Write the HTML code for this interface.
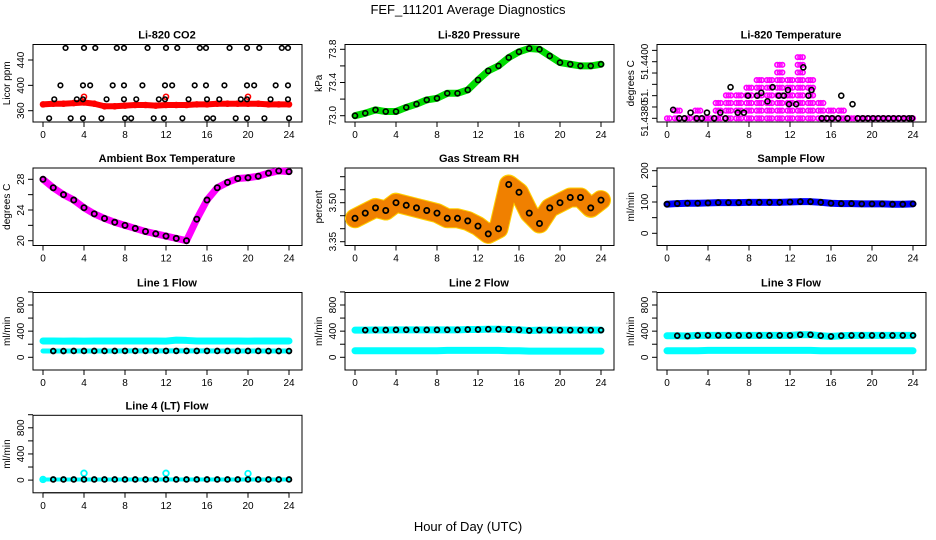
<!DOCTYPE html>
<html><head><meta charset="utf-8"><style>
body{margin:0;background:#fff}
svg{display:block;font-family:"Liberation Sans",sans-serif}
</style></head><body>
<svg id="c" width="936" height="540" viewBox="0 0 936 540">
<text x="468" y="14" text-anchor="middle" font-size="13">FEF_111201  Average Diagnostics</text>
<text x="468" y="531" text-anchor="middle" font-size="13">Hour of Day (UTC)</text>
</svg>
<script>
const hours=[0,1,2,3,4,5,6,7,8,9,10,11,12,13,14,15,16,17,18,19,20,21,22,23,24];
const xTicks=[0,4,8,12,16,20,24];
const co2Red=[370,371,371,372,373,371,367,367,368,369,369,368,369,369,369,370,370,371,371,371,371,371,370,370,370];
const co2OutHours=[2.2,4.0,5.1,7.2,7.9,10.2,12.0,13.1,15.3,15.9,18.2,19.9,21.1,23.3,23.9,1.7,3.9,4.6,6.8,7.9,9.7,11.9,12.6,14.8,15.9,17.7,19.9,20.6,22.7,23.9,1.1,3.3,3.9,6.2,7.9,9.1,11.3,11.9,14.2,16.0,17.2,19.3,19.9,22.2,23.9,0.6,2.7,3.9,5.7,8.0,8.6,10.8,11.8,13.6,16.0,16.6,18.8,19.9,21.6,24.0];
const co2OutVals=[459,459,459,459,459,459,459,459,459,459,459,459,459,459,459,400,400,400,400,400,400,400,400,400,400,400,400,400,400,400,378,378,378,378,378,378,378,378,378,378,378,378,378,378,378,348,348,348,348,348,348,348,348,348,348,348,348,348,348,348];
const presVals=[73.0,73.03,73.07,73.05,73.05,73.1,73.14,73.19,73.21,73.27,73.27,73.31,73.43,73.54,73.6,73.7,73.77,73.81,73.8,73.72,73.64,73.62,73.6,73.6,73.62];
const tempMax=[51.43805,51.4383,51.4382,51.4385,51.4382,51.4387,51.4389,51.4389,51.4391,51.4394,51.4394,51.4400,51.4396,51.4404,51.4396,51.4388,51.4383,51.4383,51.4382,51.4380,51.4380,51.4380,51.4380,51.4380,51.4380];
const tempBlackHours=[0.6,1.2,2.3,3.9,5.2,6.2,6.9,7.5,7.9,8.8,9.2,9.8,10.3,10.9,11.4,11.8,11.9,12.6,13.3,13.8,14.1,17.0,18.1,1.7,2.9,3.4,4.6,5.7,15.1,15.6,16.1,16.7,17.6,18.6,19.1,19.6,20.1,20.6,21.1,21.6,22.1,22.6,23.1,23.6,23.9];
const tempBlackVals=[51.4383,51.4380,51.4382,51.4382,51.4382,51.4391,51.4382,51.4382,51.4388,51.4388,51.4389,51.4386,51.4391,51.4388,51.4388,51.4390,51.4385,51.4385,51.4398,51.4388,51.4390,51.4388,51.4385,51.4380,51.4380,51.4380,51.4380,51.4380,51.4380,51.4380,51.4380,51.4380,51.4380,51.4380,51.4380,51.4380,51.4380,51.4380,51.4380,51.4380,51.4380,51.4380,51.4380,51.4380,51.4380];
const ambVals=[28,26.9,26.0,25.3,24.3,23.5,22.9,22.4,22.0,21.6,21.2,20.9,20.6,20.3,20.0,22.8,25.3,26.9,27.6,28.1,28.2,28.4,28.8,29.1,29.0];
const rhVals=[3.44,3.46,3.48,3.47,3.50,3.49,3.48,3.47,3.46,3.44,3.44,3.43,3.41,3.38,3.40,3.57,3.54,3.46,3.42,3.48,3.50,3.52,3.52,3.48,3.51];
const sampleVals=[93,95,96,96,97,98,98,98,99,99,99,99,100,101,101,99,96,95,95,94,94,94,93,93,94];
const line1Cyan=[250,250,248,250,248,250,250,250,250,250,250,250,248,262,258,250,250,250,250,250,248,250,250,250,250];
const line1Black=[96,96,96,97,97,97,97,97,98,98,98,98,98,98,98,98,98,97,97,97,97,97,96,96,96];
const line2Black=[415,415,418,418,420,420,420,420,420,420,420,425,425,430,430,425,420,410,415,415,415,415,415,415,415];
const line2Cyan=[100,100,100,100,100,100,100,100,100,105,105,105,105,105,105,100,100,95,95,95,95,95,95,95,95];
const line3Black=[330,330,325,335,335,335,335,335,335,335,335,335,335,345,345,330,320,330,335,335,335,335,335,335,335];
const line3Cyan=[100,100,100,100,105,105,105,105,105,105,105,105,105,105,105,100,100,100,100,100,100,100,100,100,100];
const line4Black=[10,10,10,10,10,10,10,10,10,10,10,10,10,10,10,10,10,10,10,10,10,10,10,10,10];
const line4CyanHours=[0,4,12,20];
const line4CyanVals=[10,105,105,100];
const co2Ticks=[360,400,440],co2Labels=["360","400","440"];
const presTicks=[73.0,73.2,73.4,73.6,73.8],presLabels=["73.0","","73.4","","73.8"];
const tempTicks=[51.4380,51.4384,51.4388,51.4392,51.4396,51.4400,51.4404],tempLabels=["51.4380","","51.","","","51.4400",""];
const ambTicks=[20,22,24,26,28],ambLabels=["20","","24","","28"];
const rhTicks=[3.35,3.40,3.45,3.50,3.55,3.60],rhLabels=["3.35","","","3.50","",""];
const sfTicks=[0,50,100,150,200],sfLabels=["0","","100","","200"];
const flTicks=[0,200,400,600,800,1000],flLabels=["0","","400","","800",""];

const NS="http://www.w3.org/2000/svg";
const svg=document.getElementById('c');
function mk(t,a,p){const e=document.createElementNS(NS,t);for(const k in a)e.setAttribute(k,a[k]);(p||svg).appendChild(e);return e;}
const rowTop=[44.5,168,292.5,415.3];
function panel(col,row,title,ylab,v0,p0,v1,p1,ticks,labels,name){
  const off=col*312,top=rowTop[row],bot=top+77.5;
  const g=mk('g',{});
  
  
  const xs=h=>off+43+h*10.25;
  const ys=v=>p0+(v-v0)*(p1-p0)/(v1-v0);
  const b=mk('rect',{x:off+33,y:top,width:269,height:bot-top,fill:'none',stroke:'#000','stroke-width':1},g);
  
  const t=mk('text',{x:off+167,y:top-6,'text-anchor':'middle','font-size':11,'font-weight':'bold'},g);t.textContent=title;
  
  const yl=mk('text',{x:0,y:0,'text-anchor':'middle','font-size':10,transform:`translate(${off+10},${(top+bot)/2}) rotate(-90)`},g);yl.textContent=ylab;
  
  const ax=mk('g',{},g);
  
  mk('line',{x1:xs(0),x2:xs(24),y1:bot,y2:bot,stroke:'#000'},ax);
  xTicks.forEach(h=>{mk('line',{x1:xs(h),x2:xs(h),y1:bot,y2:bot+5,stroke:'#000'},ax);
    const l=mk('text',{x:xs(h),y:bot+16,'text-anchor':'middle','font-size':10},ax);l.textContent=h;});
  const ay=mk('g',{},g);
  
  ticks.forEach((v,i)=>{const y=ys(v);mk('line',{x1:off+33,x2:off+28,y1:y,y2:y,stroke:'#000'},ay);
    if(labels[i]){const l=mk('text',{x:0,y:0,'text-anchor':'middle','font-size':10,transform:`translate(${off+24},${y}) rotate(-90)`},ay);l.textContent=labels[i];}});
  return {g,xs,ys};
}
function band(P,hs,vs,color,w,name){
  const pts=hs.map((h,i)=>P.xs(h)+','+P.ys(vs[i])).join(' ');
  const e=mk('polyline',{points:pts,fill:'none',stroke:color,'stroke-width':w,'stroke-linejoin':'round','stroke-linecap':'round'},P.g);
  
  return e;
}
function pts(P,hs,vs,color,r,name,sw){
  const g=mk('g',{},P.g);
  
  hs.forEach((h,i)=>{mk('circle',{cx:P.xs(h),cy:P.ys(vs[i]),r:r,fill:'none',stroke:color,'stroke-width':sw||1.6},g);});
}
// CO2
let P=panel(0,0,'Li-820 CO2','Licor ppm',360,110.7,440,60,co2Ticks,co2Labels,'co2');
band(P,hours,co2Red,'#f00',6,'co2-red-band');
pts(P,hours,co2Red,'#f00',2.5,'co2-red-points');
pts(P,[4,12,20],[382,382,382],'#f00',2.5,'co2-red-outliers');
pts(P,co2OutHours,co2OutVals,'#000',2.3,'co2-black-points');
// Pressure
P=panel(1,0,'Li-820 Pressure','kPa',73.0,115.7,73.8,49.3,presTicks,presLabels,'pressure');
band(P,hours,presVals,'#0d0',7,'pressure-green-band');
pts(P,hours,presVals,'#000',2.5,'pressure-black-points');
// Temperature
P=panel(2,0,'Li-820 Temperature','degrees C',51.4380,118.3,51.4400,61.7,tempTicks,tempLabels,'li820-temp');
{const mh=[],mv=[];hours.forEach((h,i)=>{for(let v=51.4380;v<=tempMax[i]+1e-7;v+=0.00027){mh.push(h-0.25);mv.push(v);mh.push(h);mv.push(v);mh.push(h+0.25);mv.push(v);}});
pts(P,mh.filter(h=>h>=0&&h<=24),mv.filter((v,i)=>mh[i]>=0&&mh[i]<=24),'#f0f',2.3,'li820-temp-magenta-points');}
pts(P,tempBlackHours,tempBlackVals,'#000',2.5,'li820-temp-black-points');
// Ambient
P=panel(0,1,'Ambient Box Temperature','degrees C',20,240.7,28,179.3,ambTicks,ambLabels,'ambient');
band(P,hours,ambVals,'#f0f',7,'ambient-magenta-band');
pts(P,hours,ambVals,'#000',2.6,'ambient-black-points',1.8);
// RH
P=panel(1,1,'Gas Stream RH','percent',3.35,241.7,3.50,202.7,rhTicks,rhLabels,'rh');
band(P,hours,rhVals,'#ffd000',20,'rh-yellow-band');
band(P,hours,rhVals,'#f08000',18,'rh-orange-band').setAttribute('stroke-dasharray','2 2');
pts(P,hours,rhVals,'#000',2.6,'rh-black-points',1.8);
// Sample flow
P=panel(2,1,'Sample Flow','ml/min',0,233.3,200,170.7,sfTicks,sfLabels,'sample-flow');
band(P,hours,sampleVals,'#00f',7,'sample-flow-blue-band');
pts(P,hours,sampleVals,'#000',2.5,'sample-flow-black-points',1.8);
// Line flows
function flowPanel(col,row,title,name){return panel(col,row,title,'ml/min',0,rowTop[row]+64.8,800,rowTop[row]+12.5,flTicks,flLabels,name);}
P=flowPanel(0,2,'Line 1 Flow','line1');
band(P,hours,line1Cyan,'#0ff',7,'line1-cyan-band');
band(P,hours,line1Black,'#0ff',5,'line1-cyan-low');
pts(P,hours.slice(1),line1Black.slice(1),'#000',2.4,'line1-black-points',1.8);
P=flowPanel(1,2,'Line 2 Flow','line2');
band(P,hours,line2Cyan,'#0ff',7,'line2-cyan-band');
band(P,hours,line2Black,'#0ff',7,'line2-cyan-high');
pts(P,hours.slice(1),line2Black.slice(1),'#000',2.4,'line2-black-points',1.8);
P=flowPanel(2,2,'Line 3 Flow','line3');
band(P,hours,line3Cyan,'#0ff',7,'line3-cyan-band');
band(P,hours,line3Black,'#0ff',7,'line3-cyan-high');
pts(P,hours.slice(1),line3Black.slice(1),'#000',2.4,'line3-black-points',1.8);
P=flowPanel(0,3,'Line 4 (LT) Flow','line4');
band(P,hours,line4Black,'#0ff',4,'line4-cyan-band');
pts(P,line4CyanHours,line4CyanVals,'#0ff',2.8,'line4-cyan-points',1.8);
pts(P,hours.slice(1),line4Black.slice(1),'#000',2.4,'line4-black-points',1.8);
</script>
</body></html>
